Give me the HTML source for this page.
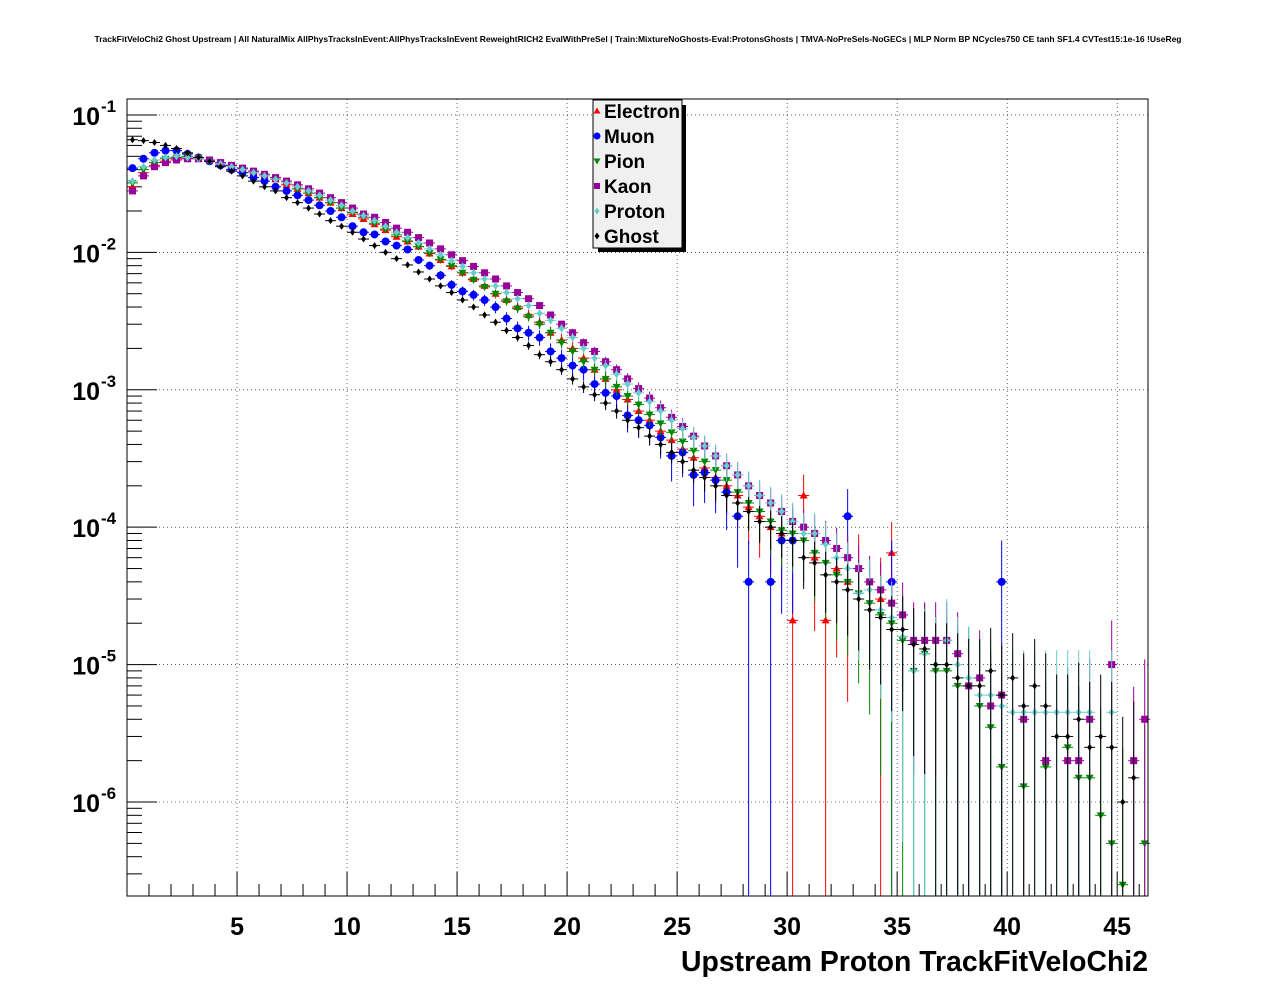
<!DOCTYPE html>
<html><head><meta charset="utf-8"><style>
body{margin:0;background:#fff;}
svg{display:block;font-family:"Liberation Sans",Arial,sans-serif;}
</style></head><body>
<svg id="chart" width="1276" height="996" viewBox="0 0 1276 996" xmlns="http://www.w3.org/2000/svg">
<rect width="1276" height="996" fill="#fff"/>
<text x="638" y="42" font-size="8.5" font-weight="bold" text-anchor="middle">TrackFitVeloChi2 Ghost Upstream | All NaturalMix AllPhysTracksInEvent:AllPhysTracksInEvent ReweightRICH2 EvalWithPreSel | Train:MixtureNoGhosts-Eval:ProtonsGhosts | TMVA-NoPreSels-NoGECs | MLP Norm BP NCycles750 CE tanh SF1.4 CVTest15:1e-16 !UseReg</text>
<g id="grid"></g>
<g id="axes"></g>
<g id="marks"></g>
<rect x="127" y="99" width="1021" height="797" fill="none" stroke="#000" stroke-width="1"/>
<text x="1148" y="971" font-size="28.4" font-weight="bold" text-anchor="end">Upstream Proton TrackFitVeloChi2</text>
<g id="legend"></g>
</svg>
<script>
const NS="http://www.w3.org/2000/svg";
const X0=127,X1=1148,Y0=99,Y1=896;
const xMin=0,xMax=46.4;
const logMin=-6.684,logMax=-0.884;
const binWidth=0.5;
const xTicks=[5,10,15,20,25,30,35,40,45];
const yDecades=[-1,-2,-3,-4,-5,-6];
const seriesNames=["Electron","Muon","Pion","Kaon","Proton","Ghost"];
const electron=[0.030,0.038,0.043,0.046,0.048,0.048,0.048,0.047,0.045,0.043,0.041,0.038,0.036,0.034,0.031,0.029,0.027,0.025,0.023,0.021,0.019,0.0175,0.016,0.0145,0.013,0.012,0.011,0.0098,0.0088,0.0079,0.0071,0.0064,0.0057,0.005,0.0045,0.004,0.0035,0.0031,0.0026,0.0023,0.002,0.0017,0.0014,0.0012,0.001,0.00085,0.0007,0.0006,0.0005,0.00043,0.00037,0.00032,0.00027,0.00023,0.0002,0.00017,0.00014,0.00012,0.0001,9e-5,2.1e-5,1.7e-4,6e-5,2.1e-5,5e-5,4e-5,5e-5,null,3e-5,6.5e-5,null,null,null,null,null,null,null,null,null,null,null,null,null,null,null,null,null,null,null,null,null,null,null];
const muon=[0.041,0.048,0.053,0.055,0.055,0.052,0.049,0.046,0.043,0.040,0.038,0.035,0.033,0.030,0.028,0.026,0.024,0.022,0.020,0.018,0.0155,0.014,0.0135,0.012,0.0112,0.0105,0.0088,0.008,0.0068,0.0058,0.0052,0.0049,0.0045,0.004,0.0033,0.0028,0.0026,0.0024,0.0019,0.0017,0.0015,0.0014,0.0011,0.00095,0.0009,0.00065,0.0006,0.00055,0.00045,0.00033,0.00035,0.00024,0.00025,0.00022,0.00018,0.00012,4e-5,null,4e-5,8e-5,8e-5,null,null,null,null,1.2e-4,null,null,null,4e-5,null,null,null,null,null,null,null,null,null,4e-5,null,null,null,null,null,null,null,null,null,null,null,null,null];
const pion=[0.032,0.040,0.045,0.048,0.049,0.050,0.049,0.047,0.045,0.043,0.041,0.039,0.036,0.034,0.032,0.029,0.027,0.025,0.023,0.021,0.0195,0.018,0.0163,0.0148,0.0134,0.0121,0.011,0.0099,0.0089,0.008,0.0071,0.0063,0.0056,0.005,0.0044,0.0039,0.0034,0.003,0.0026,0.0022,0.0019,0.0016,0.0014,0.0012,0.00105,0.0009,0.00078,0.00066,0.00057,0.00049,0.00042,0.00036,0.0003,0.00026,0.00022,0.00018,0.00015,0.00013,0.00011,9.5e-5,9e-5,8e-5,6.5e-5,5.5e-5,4.5e-5,4e-5,3.3e-5,2.8e-5,2.3e-5,2e-5,1.5e-5,9e-6,1.2e-5,9e-6,9e-6,7e-6,7e-6,5e-6,3.5e-6,1.8e-6,null,1.3e-6,null,1.8e-6,null,2.5e-6,1.5e-6,1.5e-6,8e-7,5e-7,2.5e-7,null,5e-7];
const kaon=[0.028,0.036,0.042,0.045,0.047,0.048,0.048,0.047,0.045,0.043,0.041,0.039,0.037,0.035,0.033,0.031,0.029,0.027,0.025,0.023,0.021,0.019,0.018,0.0165,0.015,0.014,0.0128,0.0117,0.0106,0.0096,0.0087,0.0079,0.0071,0.0064,0.0057,0.0051,0.0046,0.0041,0.0035,0.003,0.0026,0.0022,0.0019,0.0016,0.0014,0.0012,0.00102,0.00087,0.00074,0.00063,0.00054,0.00046,0.00039,0.00033,0.00028,0.00024,0.0002,0.00017,0.00015,0.00013,0.00011,0.0001,9e-5,8e-5,7e-5,6e-5,5e-5,4e-5,3.5e-5,2.8e-5,2.3e-5,1.5e-5,1.5e-5,1.5e-5,1.5e-5,1.2e-5,7e-6,8e-6,5e-6,6e-6,null,4e-6,null,2e-6,null,2e-6,2e-6,4e-6,null,1e-5,null,2e-6,4e-6];
const proton=[0.033,0.042,0.047,0.049,0.050,0.049,0.048,0.046,0.044,0.042,0.040,0.038,0.036,0.034,0.032,0.030,0.028,0.026,0.024,0.022,0.020,0.0185,0.017,0.0155,0.014,0.0128,0.0117,0.0106,0.0096,0.0087,0.0079,0.0071,0.0064,0.0057,0.0051,0.0046,0.0041,0.0036,0.0032,0.0028,0.0024,0.002,0.0017,0.0015,0.0013,0.0011,0.00095,0.00082,0.0007,0.0006,0.00052,0.00045,0.00039,0.00033,0.00028,0.00024,0.0002,0.00017,0.00015,0.00013,0.00011,9e-5,9e-5,7.5e-5,6e-5,5e-5,3.3e-5,3.5e-5,2.5e-5,2.2e-5,1.6e-5,9e-6,1.2e-5,1e-5,1.5e-5,1e-5,8e-6,6e-6,6e-6,5e-6,4.5e-6,4.5e-6,4.5e-6,4.5e-6,4.5e-6,4.5e-6,4.5e-6,4.5e-6,null,4.5e-6,null,null,null];
const ghost=[0.066,0.065,0.063,0.060,0.057,0.053,0.049,0.046,0.042,0.039,0.036,0.033,0.030,0.028,0.025,0.023,0.021,0.019,0.017,0.0155,0.014,0.0125,0.0112,0.010,0.009,0.0081,0.0072,0.0064,0.0057,0.0051,0.0045,0.004,0.0035,0.0031,0.0027,0.0024,0.0021,0.0018,0.0016,0.0014,0.0012,0.00105,0.00092,0.0008,0.0007,0.0006,0.00053,0.00046,0.0004,0.00035,0.0003,0.00026,0.00023,0.0002,0.00017,0.00015,0.00013,0.00011,0.0001,9e-5,8e-5,6e-5,5.5e-5,4.5e-5,4e-5,3.5e-5,3e-5,2.5e-5,2.2e-5,1.8e-5,1.8e-5,1.4e-5,1.3e-5,1e-5,1e-5,8e-6,7e-6,7e-6,9e-6,6e-6,8e-6,5e-6,7e-6,5e-6,3e-6,3e-6,4e-6,2.5e-6,3e-6,2.5e-6,1e-6,1.5e-6,null];
const seriesData=[electron,muon,pion,kaon,proton,ghost];
const seriesColors=["#ff0000","#0000ff","#008800","#990099","#66cccc","#000000"];
const seriesShapes=["tri","circle","tridown","square","diamond","diamond"];
const errScale=[3e-5,4e-5,2e-5,1.2e-5,1.5e-5,1e-5];

function xs(v){return X0+(v-xMin)/(xMax-xMin)*(X1-X0);}
function ys(v){const l=Math.log10(v);return Y1-(l-logMin)/(logMax-logMin)*(Y1-Y0);}
function mk(tag,attrs,parent){const e=document.createElementNS(NS,tag);for(const k in attrs)e.setAttribute(k,attrs[k]);parent.appendChild(e);return e;}

const grid=document.getElementById('grid'),axes=document.getElementById('axes'),marks=document.getElementById('marks');
xTicks.forEach(t=>{
  const g=mk('line',{x1:xs(t),x2:xs(t),y1:Y0,y2:Y1,stroke:'#000','stroke-width':0.6,'stroke-dasharray':'1,3'},grid);
  
  
  const tk=mk('line',{x1:xs(t),x2:xs(t),y1:Y1,y2:Y1-24,stroke:'#000'},axes);
  
  
  const tx=mk('text',{x:xs(t),y:935,'font-size':25,'font-weight':'bold','text-anchor':'middle'},axes);
  tx.textContent=t;
  
  
});
for(let t=1;t<=46;t++){if(t%5===0)continue;
  const tk=mk('line',{x1:xs(t),x2:xs(t),y1:Y1,y2:Y1-12,stroke:'#000'},axes);
  
  
}
yDecades.forEach(d=>{
  const y=ys(Math.pow(10,d));
  const g=mk('line',{x1:X0,x2:X1,y1:y,y2:y,stroke:'#000','stroke-width':0.6,'stroke-dasharray':'1,3'},grid);
  
  
  const tk=mk('line',{x1:X0,x2:X0+30,y1:y,y2:y,stroke:'#000'},axes);
  
  
  const tx=mk('text',{x:100,y:y+10,'font-size':25,'font-weight':'bold','text-anchor':'end'},axes);
  tx.textContent='10';
  
  
  const sp=mk('text',{x:101,y:y-3,'font-size':17,'font-weight':'bold'},axes);
  sp.textContent=String(d);
  
  
});
for(let d=-7;d<=-1;d++){for(let m=2;m<=9;m++){const v=m*Math.pow(10,d);const y=ys(v);if(y<Y0||y>Y1)continue;
  const tk=mk('line',{x1:X0,x2:X0+15,y1:y,y2:y,stroke:'#000'},axes);
  
  
}}

function marker(shape,cx,cy,color,parent,s){
  s=s||4;let e;
  if(shape==='circle')e=mk('circle',{cx:cx,cy:cy,r:s,fill:color},parent);
  else if(shape==='square')e=mk('rect',{x:cx-s+0.5,y:cy-s+0.5,width:2*s-1,height:2*s-1,fill:color},parent);
  else if(shape==='tri')e=mk('polygon',{points:`${cx},${cy-s} ${cx-s},${cy+s-1} ${cx+s},${cy+s-1}`,fill:color},parent);
  else if(shape==='tridown')e=mk('polygon',{points:`${cx},${cy+s} ${cx-s},${cy-s+1} ${cx+s},${cy-s+1}`,fill:color},parent);
  else e=mk('polygon',{points:`${cx},${cy-s} ${cx+s-1},${cy} ${cx},${cy+s} ${cx-s+1},${cy}`,fill:color},parent);
  return e;
}
seriesData.forEach((arr,si)=>{
  const g=mk('g',{},marks);
  
  
  const col=seriesColors[si];
  arr.forEach((v,i)=>{
    if(v===null||v<=0)return;
    const xc=(i+0.5)*binWidth;
    const cx=xs(xc),cy=ys(v);
    const err=Math.sqrt(v*errScale[si]);
    const lo=v-err>0?Math.min(Y1,ys(v-err)):Y1;
    const hi=Math.max(Y0,ys(v+err));
    mk('line',{x1:cx,x2:cx,y1:hi,y2:lo,stroke:col,'stroke-width':1},g);
    mk('line',{x1:xs(xc-binWidth/2),x2:xs(xc+binWidth/2),y1:cy,y2:cy,stroke:col,'stroke-width':1},g);
    const m=marker(seriesShapes[si],cx,cy,col,g,seriesShapes[si]==='diamond'&&si===5?3.5:4);
    
    
  });
});
const leg=document.getElementById('legend');
const sh=mk('rect',{x:598,y:105,width:88,height:147,fill:'#000'},leg);


const lb=mk('rect',{x:593,y:100,width:89,height:148,fill:'#f0f0f0',stroke:'#000'},leg);


seriesNames.forEach((n,i)=>{
  const y=111+i*25;
  const g=mk('g',{},leg);
  
  
  marker(seriesShapes[i],597,y,seriesColors[i],g,3.5);
  const t=mk('text',{x:604,y:y+7,'font-size':19,'font-weight':'bold'},g);
  t.textContent=n;
});
</script>
</body></html>
